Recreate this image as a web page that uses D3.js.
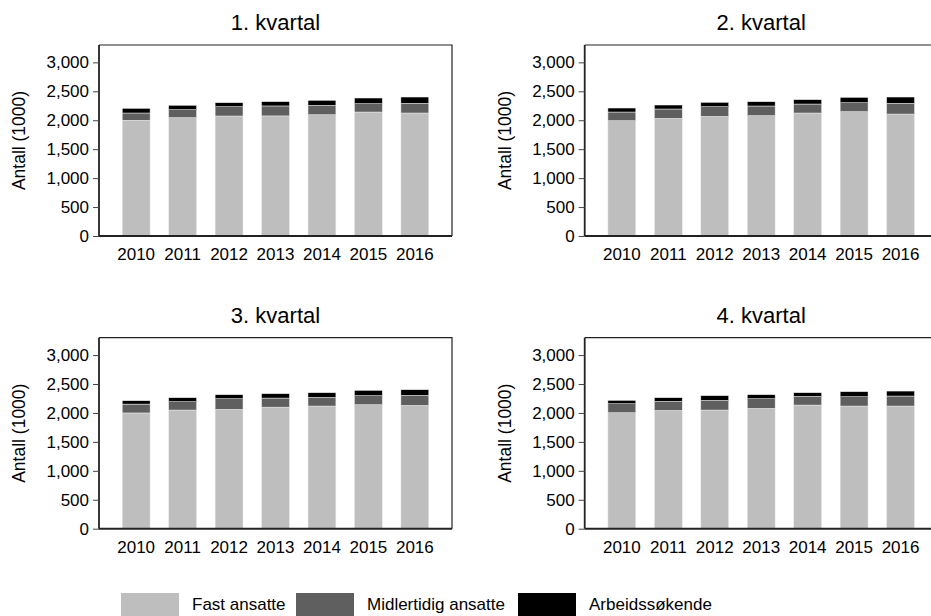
<!DOCTYPE html>
<html>
<head>
<meta charset="utf-8">
<script src="https://cdn.jsdelivr.net/npm/d3@7"></script>
<style>
	body { margin: 0; background: #fff; }
	svg { display: block; font-family: "Liberation Sans", Arial, sans-serif; }
</style>
</head>
<body>
<div class="chart"></div>
<script>

var years = ["2010", "2011", "2012", "2013", "2014", "2015", "2016"];
var titles = ["1. kvartal", "2. kvartal", "3. kvartal", "4. kvartal"];
var seriesNames = ["Fast ansatte", "Midlertidig ansatte", "Arbeidssøkende"];
var yTicks = [0, 500, 1000, 1500, 2000, 2500, 3000];

// values in 1000
var fastQ1 = [2000, 2045, 2073, 2075, 2095, 2142, 2125];
var midlQ1 = [125, 138, 161, 172, 162, 144, 167];
var arbQ1  = [80, 75, 69, 74, 87, 98, 109];

var fastQ2 = [1992, 2033, 2067, 2079, 2125, 2148, 2107];
var midlQ2 = [150, 161, 167, 167, 155, 155, 185];
var arbQ2  = [69, 69, 75, 74, 75, 92, 109];

var fastQ3 = [2000, 2050, 2062, 2100, 2119, 2142, 2131];
var midlQ3 = [153, 144, 184, 157, 150, 156, 172];
var arbQ3  = [58, 69, 69, 75, 80, 92, 98];

var fastQ4 = [2004, 2044, 2050, 2079, 2136, 2119, 2119];
var midlQ4 = [155, 156, 167, 167, 150, 161, 173];
var arbQ4  = [58, 63, 81, 69, 63, 87, 86];

var quarters = [
	[fastQ1, midlQ1, arbQ1],
	[fastQ2, midlQ2, arbQ2],
	[fastQ3, midlQ3, arbQ3],
	[fastQ4, midlQ4, arbQ4]
];

var colors = ["#bebebe", "#5f5f5f", "#000000"];

var svg = d3.select(".chart")
	.append("svg")
	.attr("width", 931)
	.attr("height", 616);

var panelW = 353,
	panelH = 191;

// top-left corner of each plot box
var origins = [
	[99, 45],
	[584.7, 45],
	[99, 337.7],
	[584.7, 337.7]
];

var x = d3.scaleBand()
	.domain(years)
	.range([0, panelW])
	.paddingInner(0.4)
	.paddingOuter(0.5);

var y = d3.scaleLinear()
	.domain([0, 3300])
	.range([panelH, 0]);

var stack = d3.stack().keys([0, 1, 2]);

quarters.forEach(function(q, qi) {

	var rows = years.map(function(yr, i) {
		return { year: yr, 0: q[0][i], 1: q[1][i], 2: q[2][i] };
	});
	var layers = stack(rows);

	var g = svg.append("g")
		.attr("transform", "translate(" + origins[qi][0] + "," + origins[qi][1] + ")");

	// title
	g.append("text")
		.attr("x", panelW / 2)
		.attr("y", -15)
		.attr("text-anchor", "middle")
		.style("font-size", "22px")
		.style("fill", "#000")
		.text(titles[qi]);

	// y label
	g.append("text")
		.attr("transform", "translate(-80," + (panelH / 2) + ") rotate(-90)")
		.attr("text-anchor", "middle")
		.attr("dy", "0.35em")
		.style("font-size", "17.5px")
		.style("fill", "#000")
		.text("Antall (1000)");

	// bars
	g.selectAll(".layer")
		.data(layers)
		.enter().append("g")
		.attr("class", "layer")
		.style("fill", function(d, i) { return colors[i]; })
		.selectAll("rect")
		.data(function(d) { return d; })
		.enter().append("rect")
		.attr("x", function(d) { return x(d.data.year); })
		.attr("y", function(d) { return y(d[1]); })
		.attr("width", x.bandwidth())
		.attr("height", function(d) { return y(d[0]) - y(d[1]); })
		.style("stroke", "#ececec")
		.style("stroke-width", 0.5);

	// frame: top and right
	g.append("path")
		.attr("d", "M0,0H" + panelW + "V" + panelH)
		.style("fill", "none")
		.style("stroke", "#222")
		.style("stroke-width", 1.2);

	// y axis
	var yAxis = g.append("g")
		.call(d3.axisLeft(y).tickValues(yTicks).tickSize(6).tickPadding(4).tickFormat(d3.format(",")));
	yAxis.select(".domain")
		.attr("d", "M0,0V" + panelH)
		.style("stroke", "#222")
		.style("stroke-width", 1.8);
	yAxis.selectAll(".tick line").style("stroke", "#444");
	yAxis.selectAll(".tick text")
		.style("font-size", "17px")
		.style("fill", "#000");
	yAxis.attr("font-family", null).attr("font-size", null);

	// x axis
	var xAxis = g.append("g")
		.attr("transform", "translate(0," + panelH + ")")
		.call(d3.axisBottom(x).tickSize(0).tickPadding(12));
	xAxis.select(".domain")
		.attr("d", "M0,0H" + panelW)
		.style("stroke", "#222")
		.style("stroke-width", 2);
	xAxis.selectAll(".tick text")
		.style("font-size", "17px")
		.style("fill", "#000");
	xAxis.attr("font-family", null).attr("font-size", null);
});

// ----------------------------------------------------------
// Legend
var legendX = [121, 296, 518];

var legend = svg.selectAll(".legend")
	.data(seriesNames)
	.enter().append("g")
	.attr("class", "legend")
	.attr("transform", function(d, i) { return "translate(" + legendX[i] + ",593)"; });

legend.append("rect")
	.attr("width", 58)
	.attr("height", 28)
	.style("fill", function(d, i) { return colors[i]; });

legend.append("text")
	.attr("x", 71)
	.attr("y", 17)
	.style("font-size", "17px")
	.style("fill", "#000")
	.text(function(d) { return d; });

</script>
</body>
</html>
